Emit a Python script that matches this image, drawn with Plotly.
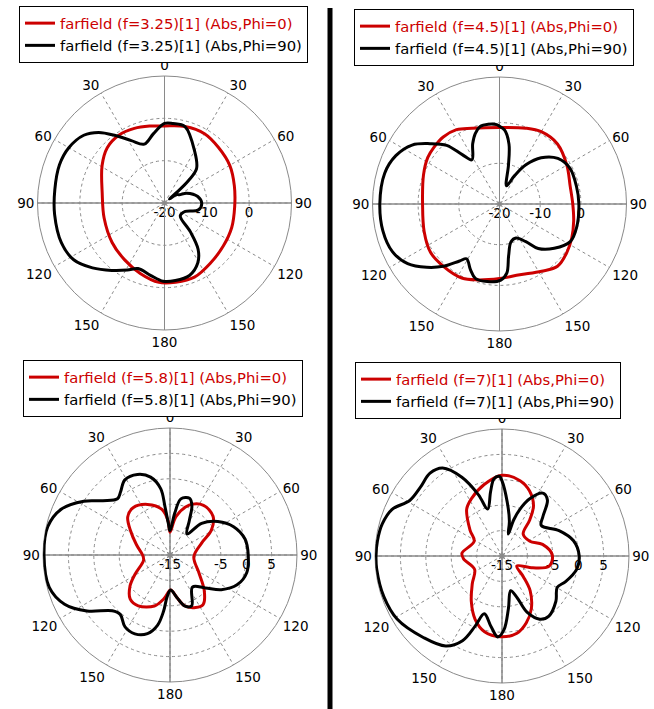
import plotly.graph_objects as go

# ---------------------------------------------------------------------------
# Farfield cuts (theta in degrees, gain in dB) for four frequencies
# ---------------------------------------------------------------------------
f325_phi0_theta = [0, 15, 30, 44, 60, 76, 93, 110, 126, 143, 158, 172, 184, 199,
                   215, 233, 256, 279, 301, 314, 326, 338, 349]
f325_phi0_db = [-1.8, -1.3, -1.1, -1.7, -2.2, -3.0, -3.4, -3.1, -2.8, -2.1, -1.1,
                -1.1, -1.2, -2.4, -3.6, -4.5, -5.3, -5.1, -2.8, -1.2, -0.7, -1.0, -1.5]

f325_phi90_theta = [0, 6, 15, 30, 43, 47, 49, 51, 55, 61, 66, 79, 91, 102, 112, 129,
                    138, 144, 151, 161, 172, 181, 191, 202, 209, 218, 228, 238, 249,
                    264, 277, 290, 300, 310, 317, 324, 332, 341, 351]
f325_phi90_db = [-1.2, -1.1, -1.3, -5.8, -8.9, -12.3, -16.0, -18.5, -16.5, -16.0,
                 -14.3, -12.0, -11.2, -11.9, -14.7, -15.2, -10.9, -6.5, -3.8, -1.9,
                 -1.5, -1.5, -2.6, -3.3, -1.9, 0.2, 2.9, 5.3, 6.1, 6.1, 6.1, 6.4,
                 6.1, 4.9, 2.8, -0.3, -3.3, -5.3, -3.4]

f45_phi0_theta = [0, 19, 30, 44, 60, 76, 90, 103, 115, 126, 137, 148, 164, 180,
                  196, 207, 222, 235, 250, 270, 291, 303, 311, 320, 330, 340]
f45_phi0_db = [-1.2, -0.3, 0.5, 0.5, -0.9, -2.1, -2.0, -1.3, -0.4, 0.4, 0.9, -0.5,
               -1.9, -1.7, -0.6, 0.4, 0.6, 0.7, -0.3, -1.1, 0.0, 1.0, 1.3, 1.5,
               1.1, -0.2]

f45_phi90_theta = [0, 4, 9, 13, 21, 28, 34, 42, 52, 63, 77, 90, 107, 118, 129, 139,
                   145, 154, 163, 170, 174, 179, 189, 198, 204, 211, 215, 222, 229,
                   237, 246, 257, 270, 285, 295, 304, 311, 318, 323, 328, 336, 341,
                   346, 352, 358]
f45_phi90_db = [-0.9, -1.8, -5.1, -10.2, -15.2, -12.1, -8.4, -4.7, -1.8, -0.6,
                -0.6, -0.5, -0.2, -0.3, -2.7, -5.5, -8.7, -10.7, -10.3, -7.1, -2.9,
                -1.3, -0.7, -0.8, -2.4, -4.3, -2.9, 0.6, 3.7, 6.9, 8.8, 9.4, 9.4,
                9.2, 8.1, 5.9, 2.6, -0.6, -4.8, -7.2, -3.8, -1.7, -0.4, -0.2, -0.5]

f58_phi0_theta = [0, 9, 21, 34, 48, 59, 69, 94, 121, 136, 146, 154, 164, 171, 179,
                  188, 197, 212, 222, 232, 241, 259, 270, 287, 302, 312, 322, 336,
                  350, 357]
f58_phi0_db = [-10.5, -7.3, -4.5, -3.2, -3.6, -5.5, -8.3, -10.3, -8.4, -5.3, -3.3,
               -3.5, -4.6, -6.6, -8.1, -6.3, -4.5, -3.2, -3.3, -5.0, -7.1, -9.7,
               -9.6, -8.1, -5.8, -3.8, -3.2, -4.1, -5.9, -8.4]

f58_phi90_theta = [0, 6.5, 11, 19, 24, 29, 39, 45, 55, 66, 78, 90, 103, 114, 124,
                   133, 145, 157, 164, 171, 179, 184, 186.5, 190, 196, 204, 212, 220,
                   226, 236, 245, 255, 270, 283, 293, 302, 309, 317, 322, 329, 338,
                   346, 352, 354, 357]
f58_phi90_db = [-10.2, -6.7, -3.75, -3.2, -4.4, -7.1, -9.7, -6.2, -3.5, -1.3, 0.1,
                0.4, 0.5, -0.55, -2.8, -5.5, -7.3, -4.1, -4.6, -6.6, -8.1, -6.7,
                -3.9, -1.0, 1.1, 2.0, 1.7, 0.25, 0.8, 4.7, 7.9, 9.6, 9.8, 9.7, 8.2,
                5.0, 2.0, 0.15, 0.8, 2.25, 2.1, 0.8, -1.8, -5.3, -8.8]

f7_phi0_theta = [0, 13.5, 23, 32, 37.5, 44, 62, 74, 89, 102, 111, 124, 134, 141,
                 151, 160, 169, 181, 193, 203, 214, 227, 244, 266, 274, 298, 309,
                 323, 332, 346]
f7_phi0_db = [0.9, 0.25, -1.1, -3.3, -6.0, -9.0, -8.8, -6.7, -5.1, -5.5, -8.5,
              -11.5, -9.2, -6.2, -3.1, -1.0, 0.5, 0.9, 0.3, -1.45, -4.2, -7.0, -9.0,
              -7.4, -7.1, -8.8, -6.9, -3.45, -2.2, -0.5]

f7_phi90_theta = [0, 5.5, 12, 16, 18, 21, 26, 33, 39, 46, 52, 66, 78, 90, 100, 112,
                  119.5, 130, 142, 149, 156, 160, 166, 173, 178.5, 183, 189, 197,
                  201, 205, 212, 224, 239, 251, 264, 270, 277, 285, 293, 301, 310,
                  319, 326, 333, 339, 343, 350, 354, 358]
f7_phi90_db = [-0.2, -4.3, -8.0, -10.5, -7.5, -5.1, -2.4, -0.25, -0.8, -3.8, -5.2,
               -2.7, -0.6, 0.2, -0.05, -1.5, -2.5, -1.15, 0.0, -0.5, -2.9, -6.2,
               -7.95, -4.6, -0.45, 0.95, -1.0, -3.1, -0.15, 3.4, 5.9, 7.3, 9.1, 9.6,
               9.8, 9.8, 9.7, 9.4, 8.5, 6.2, 6.0, 6.6, 5.9, 2.4, -2.1, -5.35, -2.1,
               0.25, 0.7]

# Angular tick labels: theta runs 0..180 on both halves of each cut
angle_tickvals = list(range(0, 360, 30))
angle_ticktext = ["0", "30", "60", "90", "120", "150", "180",
                  "150", "120", "90", "60", "30"]

RED = "#cc0000"
BLACK = "#000000"
GRID = "#8a8a8a"
FONT = "DejaVu Sans"
W, H = 654, 709
R_PX = 127  # plot radius in pixels

panels = [
    dict(freq="3.25", phi0=(f325_phi0_theta, f325_phi0_db),
         phi90=(f325_phi90_theta, f325_phi90_db),
         rrange=(-20, 10), rticks=[-20, -10, 0], rtext=["-20", "-10", "0"],
         center=(164.5, 203), legend_xy=(19, 6)),
    dict(freq="4.5", phi0=(f45_phi0_theta, f45_phi0_db),
         phi90=(f45_phi90_theta, f45_phi90_db),
         rrange=(-20, 11.2), rticks=[-20, -10, 0], rtext=["-20", "-10", "0"],
         center=(499.5, 204), legend_xy=(354, 9)),
    dict(freq="5.8", phi0=(f58_phi0_theta, f58_phi0_db),
         phi90=(f58_phi90_theta, f58_phi90_db),
         rrange=(-15, 10), rticks=[-15, -10, -5, 0, 5],
         rtext=["-15", "", "-5", "0", "5"],
         center=(170, 555), legend_xy=(23, 360)),
    dict(freq="7", phi0=(f7_phi0_theta, f7_phi0_db),
         phi90=(f7_phi90_theta, f7_phi90_db),
         rrange=(-15, 10), rticks=[-15, -10, -5, 0, 5],
         rtext=["-15", "", "-5", "0", "5"],
         center=(502, 556), legend_xy=(355, 362)),
]


def closed(theta, vals):
    return list(theta) + [theta[0]], list(vals) + [vals[0]]


fig = go.Figure()
layout = dict(width=W, height=H, margin=dict(l=0, r=0, t=0, b=0),
              paper_bgcolor="white", plot_bgcolor="white",
              font=dict(family=FONT, color="black"), shapes=[])

for i, p in enumerate(panels, start=1):
    polar_id = "polar" if i == 1 else f"polar{i}"
    legend_id = "legend" if i == 1 else f"legend{i}"
    rmin, rmax = p["rrange"]

    # solid cross through the centre: each spoke runs out and back
    cross_r, cross_t = [], []
    for ang in (0, 180, 90, 270):
        cross_r += [rmin, rmax, rmin]
        cross_t += [ang, ang, ang]
    fig.add_trace(go.Scatterpolar(
        r=cross_r, theta=cross_t, mode="lines",
        line=dict(color=GRID, width=1),
        showlegend=False, hoverinfo="skip", subplot=polar_id))
    fig.add_trace(go.Scatterpolar(
        r=[rmin], theta=[0], mode="markers",
        marker=dict(symbol="asterisk-open", size=7, color=GRID,
                    line=dict(color=GRID, width=1)),
        showlegend=False, hoverinfo="skip", subplot=polar_id))

    th, db = closed(*p["phi0"])
    fig.add_trace(go.Scatterpolar(
        r=db, theta=th, mode="lines",
        line=dict(color=RED, width=3, shape="spline", smoothing=1),
        name=f"<span style='color:{RED}'>farfield (f={p['freq']})[1] (Abs,Phi=0)</span>",
        legend=legend_id, subplot=polar_id))
    th, db = closed(*p["phi90"])
    fig.add_trace(go.Scatterpolar(
        r=db, theta=th, mode="lines",
        line=dict(color=BLACK, width=3, shape="spline", smoothing=1),
        name=f"farfield (f={p['freq']})[1] (Abs,Phi=90)",
        legend=legend_id, subplot=polar_id))

    cx, cy = p["center"]
    layout[polar_id] = dict(
        domain=dict(x=[(cx - R_PX) / W, (cx + R_PX) / W],
                    y=[(H - cy - R_PX) / H, (H - cy + R_PX) / H]),
        bgcolor="white",
        angularaxis=dict(rotation=90, direction="clockwise", tickmode="array",
                         tickvals=angle_tickvals, ticktext=angle_ticktext,
                         showline=True, linecolor=GRID, linewidth=1,
                         gridcolor=GRID, griddash="3px,3px", gridwidth=1,
                         layer="below traces", ticks="",
                         tickfont=dict(family=FONT, size=13.5, color="black")),
        radialaxis=dict(range=[rmin, rmax], tickmode="array",
                        tickvals=p["rticks"], ticktext=p["rtext"], angle=0,
                        side="clockwise", showline=False, ticks="",
                        layer="below traces",
                        gridcolor=GRID, griddash="3px,3px", gridwidth=1,
                        tickfont=dict(family=FONT, size=13.5, color="black")),
    )
    lx, ly = p["legend_xy"]
    layout[legend_id] = dict(
        x=lx / W, y=1 - ly / H, xanchor="left", yanchor="top",
        bgcolor="white", bordercolor="black", borderwidth=1,
        font=dict(family=FONT, size=14.8, color="black"),
        tracegroupgap=0, itemwidth=30)

# divider between the left and right columns
layout["shapes"].append(dict(type="line", xref="paper", yref="paper",
                             x0=330 / W, x1=330 / W, y0=0, y1=1 - 8 / H,
                             line=dict(color="black", width=5)))

fig.update_layout(**layout)
fig.write_html("out.html")
